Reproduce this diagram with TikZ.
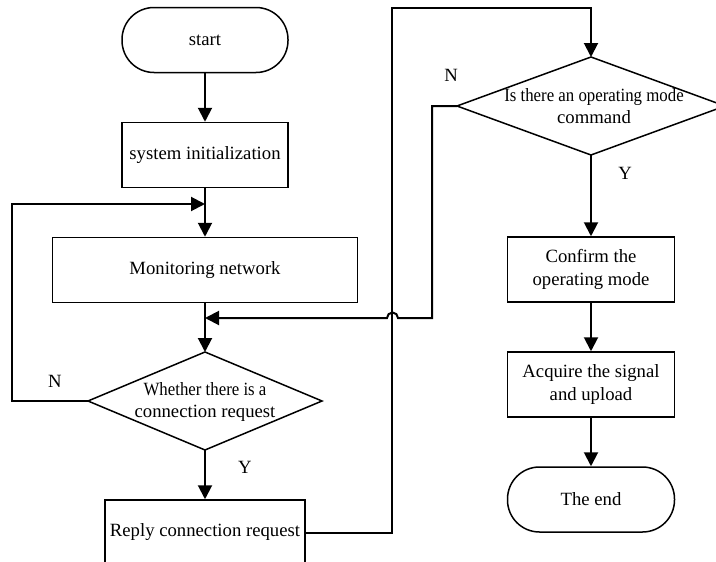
\documentclass[tikz,border=0pt]{standalone}
\usepackage{fontspec}
\setmainfont{Liberation Serif}
\usetikzlibrary{arrows.meta}
\begin{document}
\begin{tikzpicture}[x=1pt,y=-1pt,
  every node/.style={font=\fontsize{18.7}{22.5}\selectfont},
  box/.style={draw,line width=1.5pt,rectangle,minimum height=65pt,inner sep=0pt,align=center},
  term/.style={draw,line width=1.5pt,rectangle,rounded corners=32pt,minimum width=166pt,minimum height=65pt,inner sep=0pt},
  dia/.style={draw,line width=1.5pt},
  arr/.style={line width=2pt,-{Triangle[length=14pt,width=14pt]}},
  lbl/.style={inner sep=0pt}
]
\clip (0,0) rectangle (716,562);
% left column
\node[term] (start) at (205,40) {start};
\node[box,minimum width=166pt] (init) at (205,155) {system initialization};
\node[box,minimum width=305pt] (mon) at (205,270) {Monitoring network};
\path[dia] (88,401) coordinate (d1w) -- (205,352) coordinate (d1n) -- (322,401) coordinate (d1e) -- (205,450) coordinate (d1s) -- cycle;
\node[lbl,align=center] (d1t) at (205,402) {\scalebox{0.9}[1]{Whether there is a}\\connection request};
\node[box,minimum width=200pt] (reply) at (205,532.5) {Reply connection request};
% right column
\path[dia] (457,106) coordinate (d2w) -- (591,57) coordinate (d2n) -- (725,106) coordinate (d2e) -- (591,155) coordinate (d2s) -- cycle;
\node[lbl,align=center] (d2t) at (594,106) {\scalebox{0.9}[1]{Is there an operating mode}\\command};
\node[box,minimum width=167pt] (conf) at (591,269.5) {Confirm the\\operating mode};
\node[box,minimum width=167pt] (acq) at (591,384.5) {Acquire the signal\\and upload};
\node[term,minimum width=167pt] (end) at (591,499.5) {The end};
% labels
\node[lbl] (n1) at (55,381) {N};
\node[lbl] (y1) at (245,467) {Y};
\node[lbl] (n2) at (451,75) {N};
\node[lbl] (y2) at (625,173) {Y};
% coordinates
\coordinate (m1) at (205,204);
\coordinate (m2) at (205,318);
\coordinate (lp) at (12,401);
\coordinate (tp) at (392,8);
\coordinate (rp) at (432,106);
% connectors
\draw[arr] (start.south) -- (init.north);
\draw[arr] (init.south) -- (mon.north);
\draw[arr] (mon.south) -- (d1n);
\draw[arr] (d1s) -- (reply.north);
\draw[arr] (d1w) -- (lp) |- (m1);
\draw[arr] (reply.east) -| (tp) -| (d2n);
\draw[arr] (d2w) -- (rp) -- (432,318) -- (398,318) arc[start angle=0,end angle=-180,radius=5.5] -- (m2);
\draw[arr] (d2s) -- (conf.north);
\draw[arr] (conf.south) -- (acq.north);
\draw[arr] (acq.south) -- (end.north);
\end{tikzpicture}
\end{document}
